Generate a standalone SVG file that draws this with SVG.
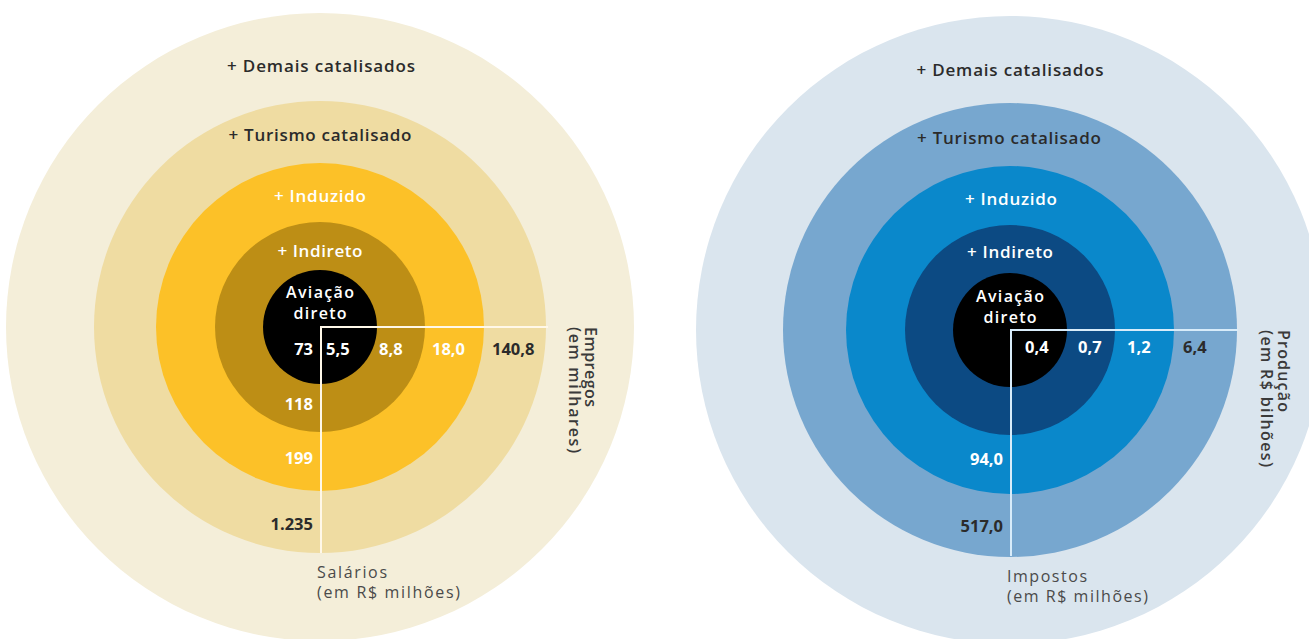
<svg xmlns="http://www.w3.org/2000/svg" width="1309" height="639" viewBox="0 0 1309 639">
<style>
text{font-family:"Open Sans","Noto Sans","Liberation Sans",sans-serif;}
.lab{font-size:17px;font-weight:600;text-anchor:middle;}
.dk{fill:#2b2b2b;}
.wh{fill:#ffffff;}
.num{font-size:16.5px;font-weight:700;}
.av{font-size:16px;font-weight:600;text-anchor:middle;fill:#fff;}
.ax{font-size:16px;font-weight:500;fill:#4a4a4a;}
.axr{font-size:16px;font-weight:600;fill:#3a3a3a;}
.end{text-anchor:end;}
</style>
<rect width="1309" height="639" fill="#ffffff"/>
<g id="left-chart">
  <circle id="l-demais" cx="320" cy="327" r="314" fill="#F4EED9"/>
  <circle id="l-turismo" cx="320" cy="327" r="226" fill="#EFDCA2"/>
  <circle id="l-induzido" cx="320" cy="327" r="164" fill="#FCC128"/>
  <circle id="l-indireto" cx="320" cy="327" r="105" fill="#BD8E15"/>
  <circle id="l-direto" cx="320" cy="327" r="57" fill="#000000"/>
</g>
<g id="right-chart">
  <circle id="r-demais" cx="1010" cy="330" r="314" fill="#DAE5EE"/>
  <circle id="r-turismo" cx="1010" cy="330" r="227" fill="#77A7CF"/>
  <circle id="r-induzido" cx="1010" cy="330" r="164" fill="#0A88CB"/>
  <circle id="r-indireto" cx="1010" cy="330" r="105" fill="#0C4A83"/>
  <circle id="r-direto" cx="1010" cy="330" r="57" fill="#000000"/>
</g>
<g id="connectors" fill="none" stroke-width="2">
  <path d="M548 327 H321 V553" stroke="#FFF8E8"/>
  <path d="M1238 330 H1011 V556" stroke="#D8ECFA"/>
</g>
<g id="left-labels">
  <text class="lab dk" x="321" y="72" textLength="188">+ Demais catalisados</text>
  <text class="lab dk" x="320" y="141" textLength="183">+ Turismo catalisado</text>
  <text class="lab wh" x="320" y="202" textLength="92">+ Induzido</text>
  <text class="lab wh" x="320" y="257" textLength="85">+ Indireto</text>
  <text class="av" x="320" y="298" textLength="68">Aviação</text>
  <text class="av" x="320" y="319" textLength="53">direto</text>
  <text class="num wh end" x="313" y="355">73</text>
  <text class="num wh" x="326" y="355">5,5</text>
  <text class="num wh" x="379" y="355">8,8</text>
  <text class="num wh" x="432" y="355">18,0</text>
  <text class="num dk" x="492" y="355">140,8</text>
  <text class="num wh end" x="313" y="410">118</text>
  <text class="num wh end" x="313" y="464">199</text>
  <text class="num dk end" x="313" y="530">1.235</text>
  <text class="ax" x="317" y="578" textLength="70">Salários</text>
  <text class="ax" x="317" y="598" textLength="143">(em R$ milhões)</text>
  <g transform="translate(585,327) rotate(90)">
    <text class="axr" x="0" y="0" textLength="80">Empregos</text>
    <text class="axr" x="0" y="16" textLength="126">(em milhares)</text>
  </g>
</g>
<g id="right-labels">
  <text class="lab dk" x="1010" y="76" textLength="187">+ Demais catalisados</text>
  <text class="lab dk" x="1009" y="144" textLength="184">+ Turismo catalisado</text>
  <text class="lab wh" x="1011" y="205" textLength="92">+ Induzido</text>
  <text class="lab wh" x="1010" y="258" textLength="86">+ Indireto</text>
  <text class="av" x="1010" y="302" textLength="68">Aviação</text>
  <text class="av" x="1010" y="323" textLength="53">direto</text>
  <text class="num wh" x="1025" y="353">0,4</text>
  <text class="num wh" x="1078" y="353">0,7</text>
  <text class="num wh" x="1127" y="353">1,2</text>
  <text class="num dk" x="1183" y="353">6,4</text>
  <text class="num wh end" x="1003" y="465">94,0</text>
  <text class="num dk end" x="1003" y="532">517,0</text>
  <text class="ax" x="1007" y="582" textLength="80">Impostos</text>
  <text class="ax" x="1007" y="602" textLength="141">(em R$ milhões)</text>
  <g transform="translate(1278,330) rotate(90)">
    <text class="axr" x="0" y="0" textLength="82">Produção</text>
    <text class="axr" x="0" y="17" textLength="137">(em R$ bilhões)</text>
  </g>
</g>
</svg>
